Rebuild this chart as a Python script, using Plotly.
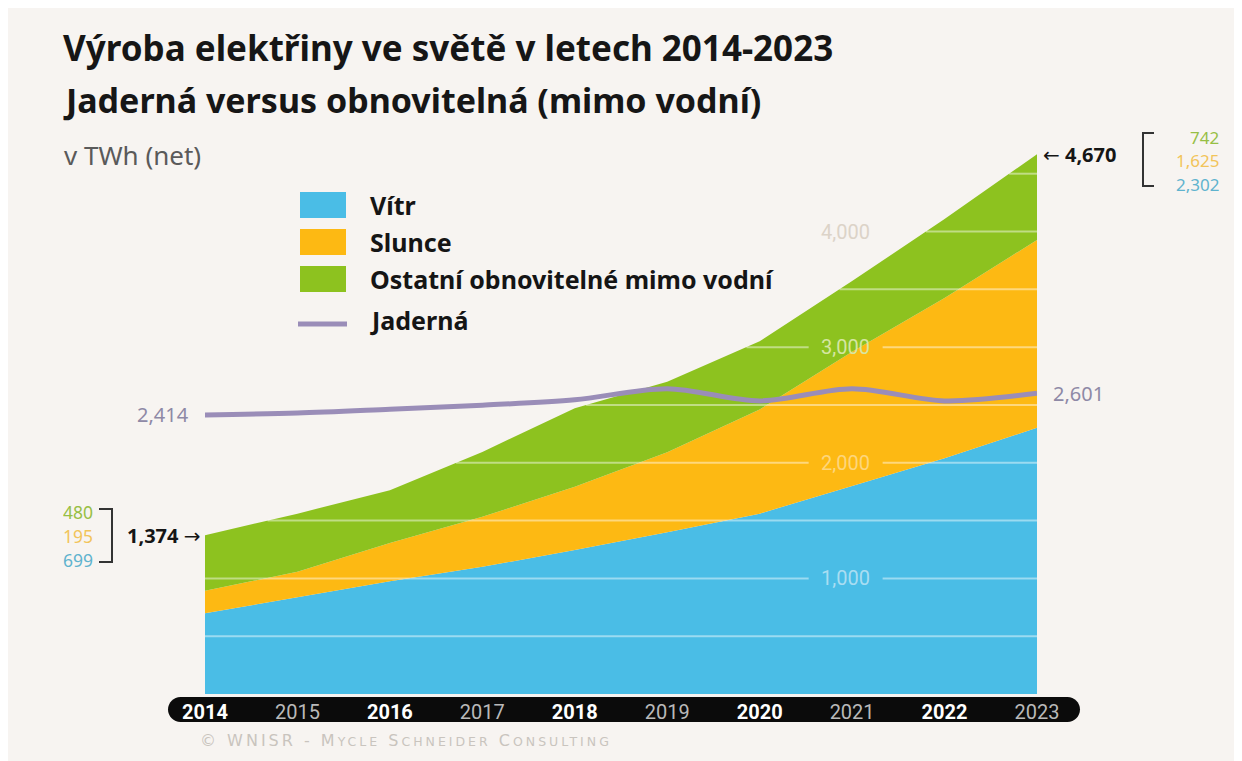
import plotly.graph_objects as go

# ---------------- data (TWh, net) ----------------
years = [2014, 2015, 2016, 2017, 2018, 2019, 2020, 2021, 2022, 2023]
wind = [699, 840, 975, 1100, 1245, 1400, 1560, 1800, 2040, 2302]
solar = [195, 217, 330, 432, 547, 690, 900, 1160, 1385, 1625]
other = [480, 503, 458, 562, 680, 610, 590, 611, 683, 742]
nuclear = [2414, 2430, 2463, 2498, 2545, 2640, 2535, 2640, 2535, 2601]
total_labels = [1374, 4670]          # stated totals for 2014 and 2023
grid_levels = [500, 1000, 1500, 2000, 2500, 3000, 3500, 4000, 4500]
label_levels = [1000, 2000, 3000, 4000]
series_names = ["Vítr", "Slunce", "Ostatní obnovitelné mimo vodní", "Jaderná"]

# ---------------- styling ----------------
OFF = 8                      # page body margin of the html page
W, H = 1242 - OFF, 761 - OFF
XL, XR = 205, 1037          # screenshot pixel x of first / last year
Y0, YT = 694, 139           # screenshot pixel y of 0 and of top of y range
YMAX = 4800
BG = "#F7F4F1"
C_WIND = "#4ABDE6"
C_SOLAR = "#FDB913"
C_OTHER = "#8DC21F"
C_NUC = "#9A8DB8"
C_NUC_TXT = "#8E89A6"
FONT = "Noto Sans, Open Sans, DejaVu Sans, sans-serif"
TICKFONT = "Roboto, Liberation Sans, sans-serif"


def px(x):
    return (x - XL) / (XR - XL)


def py(y):
    return (Y0 - y) / (Y0 - YT)


def P(x, y):
    return f"{px(x):.5f},{py(y):.5f}"


fig = go.Figure()

for name, vals, col in [(series_names[0], wind, C_WIND),
                        (series_names[1], solar, C_SOLAR),
                        (series_names[2], other, C_OTHER)]:
    fig.add_trace(go.Scatter(
        x=years, y=vals, name=name, stackgroup="re", mode="lines",
        line=dict(width=0, color=col), fillcolor=col,
        hoverinfo="skip", showlegend=False))

fig.add_trace(go.Scatter(
    x=years, y=nuclear, name=series_names[3], mode="lines",
    line=dict(color=C_NUC, width=5, shape="spline", smoothing=0.9),
    hoverinfo="skip", showlegend=False, cliponaxis=False))

shapes = []
annotations = []

# --- gridlines: only where the stacked area lies (white, translucent), gap for labels ---
totals = [a + b + c for a, b, c in zip(wind, solar, other)]


def area_start(level):
    """x position where the stacked total first reaches `level` (linear interpolation)."""
    if totals[0] >= level:
        return years[0]
    for i in range(1, len(years)):
        if totals[i] >= level:
            t = (level - totals[i - 1]) / (totals[i] - totals[i - 1])
            return years[i - 1] + t * (years[i] - years[i - 1])
    return years[-1]


GAP0, GAP1, LABX = 2020.53, 2021.33, 2020.93
label_colors = {1000: "#A9DDF2", 2000: "#FDD67C", 3000: "#D6E6A2", 4000: "#DCD3C8"}
for lvl in grid_levels:
    start = area_start(lvl)
    segs = [(start, GAP0), (max(start, GAP1), years[-1])] if lvl in label_levels else [(start, years[-1])]
    for a, b in segs:
        if b <= a:
            continue
        shapes.append(dict(type="line", xref="x", yref="y", x0=a, x1=b, y0=lvl, y1=lvl,
                           line=dict(color="rgba(255,255,255,0.45)", width=2), layer="above"))
for lvl in label_levels:
    annotations.append(dict(xref="x", yref="y", x=LABX, y=lvl, text=f"{lvl:,}",
                            showarrow=False, xanchor="center", yanchor="middle",
                            font=dict(family=TICKFONT, size=20, color=label_colors[lvl])))

# --- black rounded x-axis bar ---
bx0, bx1, btop, bbot = 168, 1080, 697, 722
r = (bbot - btop) / 2
mid = (btop + bbot) / 2
k = 0.5523 * r
path = (f"M {P(bx0 + r, btop)} L {P(bx1 - r, btop)} "
        f"C {P(bx1 - r + k, btop)} {P(bx1, mid - k)} {P(bx1, mid)} "
        f"C {P(bx1, mid + k)} {P(bx1 - r + k, bbot)} {P(bx1 - r, bbot)} "
        f"L {P(bx0 + r, bbot)} "
        f"C {P(bx0 + r - k, bbot)} {P(bx0, mid + k)} {P(bx0, mid)} "
        f"C {P(bx0, mid - k)} {P(bx0 + r - k, btop)} {P(bx0 + r, btop)} Z")
shapes.append(dict(type="path", xref="paper", yref="paper", path=path,
                   fillcolor="#0B0B0B", line=dict(width=0), layer="below"))

# --- legend ---
leg_items = [(series_names[0], C_WIND, 205), (series_names[1], C_SOLAR, 242),
             (series_names[2], C_OTHER, 279)]
for name, col, yc in leg_items:
    shapes.append(dict(type="rect", xref="paper", yref="paper",
                       x0=px(300), x1=px(346), y0=py(yc - 13), y1=py(yc + 13),
                       fillcolor=col, line=dict(width=0), layer="above"))
    annotations.append(dict(xref="paper", yref="paper", x=px(368), y=py(yc), text=f"<b>{name}</b>",
                            showarrow=False, xanchor="left", yanchor="middle",
                            font=dict(family=FONT, size=25, color="#151515")))
shapes.append(dict(type="line", xref="paper", yref="paper", x0=px(298), x1=px(347),
                   y0=py(324), y1=py(324), line=dict(color=C_NUC, width=5), layer="above"))
annotations.append(dict(xref="paper", yref="paper", x=px(368), y=py(320), text=f"<b>{series_names[3]}</b>",
                        showarrow=False, xanchor="left", yanchor="middle",
                        font=dict(family=FONT, size=25, color="#151515")))

# --- titles ---
annotations += [
    dict(xref="paper", yref="paper", x=px(61), y=py(48), text="<b>Výroba elektřiny ve světě v letech 2014-2023</b>",
         showarrow=False, xanchor="left", yanchor="middle", font=dict(family=FONT, size=35, color="#161616")),
    dict(xref="paper", yref="paper", x=px(61), y=py(100), text="<b>Jaderná versus obnovitelná (mimo vodní)</b>",
         showarrow=False, xanchor="left", yanchor="middle", font=dict(family=FONT, size=34, color="#161616")),
    dict(xref="paper", yref="paper", x=px(62), y=py(155), text="v TWh (net)",
         showarrow=False, xanchor="left", yanchor="middle", font=dict(family=FONT, size=26, color="#5A5A5A")),
]

# --- nuclear end labels ---
annotations += [
    dict(xref="x", yref="y", x=years[0], y=nuclear[0], text=f"{nuclear[0]:,}", xshift=-14,
         showarrow=False, xanchor="right", yanchor="middle", font=dict(family=FONT, size=20, color=C_NUC_TXT)),
    dict(xref="x", yref="y", x=years[-1], y=nuclear[-1], text=f"{nuclear[-1]:,}", xshift=14,
         showarrow=False, xanchor="left", yanchor="middle", font=dict(family=FONT, size=20, color=C_NUC_TXT)),
]

# --- totals with arrows ---
annotations += [
    dict(xref="x", yref="y", x=years[0], y=total_labels[0], text=f"<b>{total_labels[0]:,}</b> →", xshift=-3,
         showarrow=False, xanchor="right", yanchor="middle", font=dict(family=FONT, size=20, color="#151515")),
    dict(xref="x", yref="y", x=years[-1], y=total_labels[1], text=f"← <b>{total_labels[1]:,}</b>", xshift=4,
         showarrow=False, xanchor="left", yanchor="middle", font=dict(family=FONT, size=20, color="#151515")),
]

# --- component breakdowns with brackets ---
C_OTHER_T, C_SOLAR_T, C_WIND_T = "#97BF45", "#F2C45A", "#5FB3CE"
left_parts = [(other[0], C_OTHER_T, 512), (solar[0], C_SOLAR_T, 536), (wind[0], C_WIND_T, 560)]
right_parts = [(other[-1], C_OTHER_T, 137), (solar[-1], C_SOLAR_T, 160), (wind[-1], C_WIND_T, 184)]
for v, c, yc in left_parts:
    annotations.append(dict(xref="paper", yref="paper", x=px(94), y=py(yc), text=f"{v:,}",
                            showarrow=False, xanchor="right", yanchor="middle", height=20, borderpad=0,
                            font=dict(family=FONT, size=17.5, color=c)))
for v, c, yc in right_parts:
    annotations.append(dict(xref="paper", yref="paper", x=px(1220), y=py(yc), text=f"{v:,}",
                            showarrow=False, xanchor="right", yanchor="middle", height=20, borderpad=0,
                            font=dict(family=FONT, size=17, color=c)))
shapes.append(dict(type="path", xref="paper", yref="paper",
                   path=f"M {P(99, 509)} L {P(112, 509)} L {P(112, 562)} L {P(99, 562)}",
                   line=dict(color="#333333", width=2)))
shapes.append(dict(type="path", xref="paper", yref="paper",
                   path=f"M {P(1154, 133)} L {P(1143, 133)} L {P(1143, 186)} L {P(1154, 186)}",
                   line=dict(color="#333333", width=2)))

# --- footer (small caps look) ---
sc = "<span style='font-size:12.5px'>"
annotations.append(dict(xref="paper", yref="paper", x=px(198), y=py(740),
                        text=(f"<span style='letter-spacing:3px'>© WNISR - M{sc}YCLE</span> "
                              f"S{sc}CHNEIDER</span> C{sc}ONSULTING</span></span>"),
                        showarrow=False, xanchor="left", yanchor="middle",
                        font=dict(family="DejaVu Sans, sans-serif", size=16, color="#C9C4BE")))

ticktext = [f"<b>{y}</b>" if y % 2 == 0 else f"<span style='color:#B9B9B9'>{y}</span>" for y in years]

fig.update_layout(
    width=W, height=H,
    margin=dict(l=XL - OFF, r=1242 - XR, t=YT - OFF, b=761 - Y0, pad=0),
    paper_bgcolor=BG, plot_bgcolor=BG,
    showlegend=False,
    xaxis=dict(range=[years[0], years[-1]], tickvals=years, ticktext=ticktext,
               showgrid=False, zeroline=False, showline=False, ticks="",
               tickfont=dict(family=TICKFONT, size=20, color="#FFFFFF"), ticklabelstandoff=4,
               fixedrange=True),
    yaxis=dict(range=[0, YMAX], visible=False, showgrid=False, zeroline=False, fixedrange=True),
    shapes=shapes, annotations=annotations,
)

fig.write_html("out.html")
